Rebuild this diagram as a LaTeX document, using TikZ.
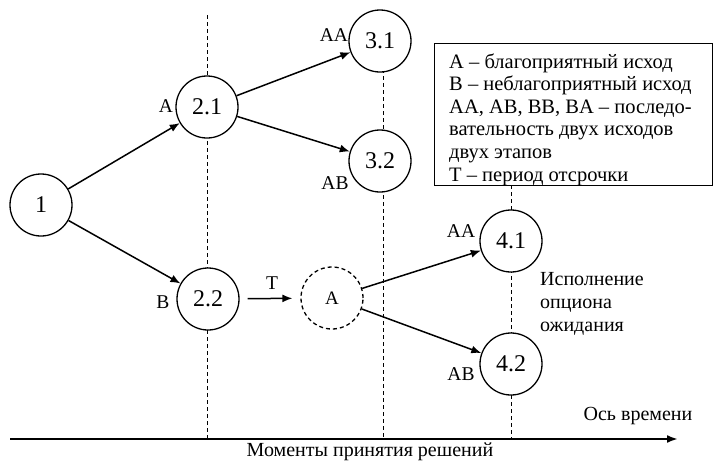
\documentclass[tikz,border=0pt]{standalone}
\usepackage{fontspec}
\setmainfont{Liberation Serif}
\usetikzlibrary{arrows.meta}
\begin{document}
\begin{tikzpicture}[x=1pt,y=-1pt,
  state/.style={circle,draw,line width=1.3pt,fill=white,minimum size=62pt,inner sep=0pt,font=\fontsize{24}{24}\selectfont},
  ghost/.style={state,dashed,dash pattern=on 4pt off 3pt,font=\fontsize{19}{19}\selectfont},
  conn/.style={line width=1.5pt,-{Latex[length=10pt,width=8pt]}},
  timeline/.style={dashed,line width=1pt,dash pattern=on 4pt off 3pt},
  lbl/.style={font=\fontsize{19.5}{19.5}\selectfont,inner sep=0pt},
  txt/.style={font=\fontsize{20}{23}\selectfont,inner sep=0pt,align=left},
  legline/.style={anchor=base west,inner sep=0pt,font=\fontsize{20.5}{22}\selectfont}]
\useasboundingbox (0,0) rectangle (713,461);
% time lines
\coordinate (t1a) at (207,15);  \coordinate (t1b) at (207,438);
\coordinate (t2a) at (383,41);  \coordinate (t2b) at (383,438);
\coordinate (t3a) at (511,185); \coordinate (t3b) at (511,438);
\draw[timeline] (t1a) -- (t1b);
\draw[timeline] (t2a) -- (t2b);
\draw[timeline] (t3a) -- (t3b);
% axis
\coordinate (ax0) at (10,439);
\coordinate (ax1) at (678,439);
\draw[line width=2.4pt,-{Latex[length=11pt,width=8pt]}] (ax0) -- (ax1);
\node[txt,anchor=center] (axl) at (638,416) {Ось времени};
\node[txt,anchor=center] (mom) at (370,452) {Моменты принятия решений};
% nodes
\node[state] (n1)  at (41,205) {1};
\node[state] (n21) at (207,107) {2.1};
\node[state] (n22) at (208,299) {2.2};
\node[state] (n31) at (380,41) {3.1};
\node[state] (n32) at (380,161) {3.2};
\node[ghost] (nA)  at (332,298) {A};
\node[state] (n41) at (511,241) {4.1};
\node[state] (n42) at (511,364) {4.2};
% connectors
\draw[conn] (n1) -- (n21);
\draw[conn] (n1) -- (n22);
\draw[conn] (n21) -- (n31);
\draw[conn] (n21) -- (n32);
\draw[conn,shorten <=8pt,shorten >=8pt] (n22) -- (nA);
\draw[conn] (nA) -- (n41);
\draw[conn] (nA) -- (n42);
% labels
\node[lbl] (lA)   at (166,106) {A};
\node[lbl] (lB)   at (163,302) {B};
\node[lbl] (lAA1) at (334,35)  {AA};
\node[lbl] (lAB1) at (335,183) {AB};
\node[lbl] (lT)   at (272,283) {T};
\node[lbl] (lAA2) at (461,231) {AA};
\node[lbl] (lAB2) at (461,374) {AB};
\node[txt,anchor=north west] (opt) at (540,272) {Исполнение\\опциона\\ожидания};
% legend
\node[draw,line width=1.2pt,fill=white,minimum width=278pt,minimum height=142pt,anchor=north west,inner sep=0pt] (leg) at (434,43) {};
\node[legline] (lg1) at (449,68)    {A – благоприятный исход};
\node[legline] (lg2) at (449,90.6)  {B – неблагоприятный исход};
\node[legline] (lg3) at (449,113.2) {AA, AB, BB, BA – последо-};
\node[legline] (lg4) at (449,135.8) {вательность двух исходов};
\node[legline] (lg5) at (449,158.4) {двух этапов};
\node[legline] (lg6) at (449,181)   {T – период отсрочки};
\end{tikzpicture}
\end{document}
